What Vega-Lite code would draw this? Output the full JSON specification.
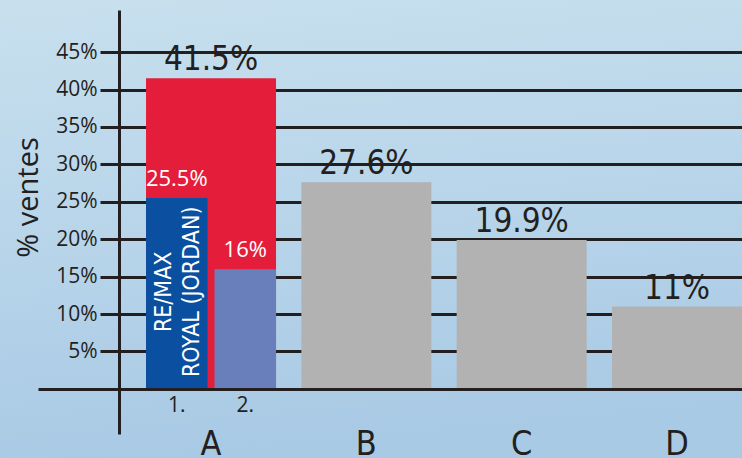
{
  "$schema": "https://vega.github.io/schema/vega-lite/v6.json",
  "width": 742,
  "height": 458,
  "padding": 0,
  "autosize": {"type": "none"},
  "background": "#c6dfee",
  "config": {
    "view": {
      "stroke": null,
      "fill": {"gradient": "linear", "x1": 0, "y1": 0, "x2": 0.15, "y2": 1, "stops": [{"offset": 0, "color": "#c8e0ee"}, {"offset": 1, "color": "#a9cae5"}]}
    }
  },
  "datasets": {
    "principal": [
      {"groupe": "A", "part": 41.5, "etiquette": "41.5%", "couleur": "A"},
      {"groupe": "B", "part": 27.6, "etiquette": "27.6%", "couleur": "autre"},
      {"groupe": "C", "part": 19.9, "etiquette": "19.9%", "couleur": "autre"},
      {"groupe": "D", "part": 11, "etiquette": "11%", "couleur": "autre"}
    ],
    "detail": [
      {"groupe": "A", "rang": "1.", "part": 25.5, "etiquette": "25.5%", "nom": "RE/MAX\nROYAL (JORDAN)"},
      {"groupe": "A", "rang": "2.", "part": 16, "etiquette": "16%", "nom": ""}
    ]
  },
  "resolve": {"axis": {"y": "independent"}},
  "layer": [
    {
      "data": {"name": "principal"},
      "mark": {"type": "bar"},
      "encoding": {
        "x": {
          "field": "groupe", "type": "nominal",
          "scale": {"domain": ["A", "B", "C", "D"], "range": [119, 742], "paddingInner": 0.163, "paddingOuter": 0.087, "align": 1},
          "axis": {"orient": "bottom", "ticks": false, "tickSize": 0, "domain": false, "grid": false, "labelAngle": 0, "labelPadding": -4, "labelBaseline": "alphabetic", "labelFont": "DejaVu Sans Condensed, Liberation Sans, sans-serif", "labelFontSize": 34, "labelColor": "#231f20", "title": null}
        },
        "y": {
          "field": "part", "type": "quantitative",
          "scale": {"domain": [-6.04, 50.64], "range": [434, 10], "zero": false, "nice": false},
          "axis": {
            "orient": "left", "offset": -119,
            "values": [5, 10, 15, 20, 25, 30, 35, 40, 45],
            "labelExpr": "datum.value + '%'",
            "tickSize": 19, "tickWidth": 3, "tickColor": "#231f20",
            "domainWidth": 3, "domainColor": "#231f20",
            "grid": true, "gridWidth": 3, "gridColor": "#231f20", "gridOpacity": 1,
            "labelFont": "Open Sans", "labelFontSize": 21, "labelColor": "#231f20", "labelPadding": 3,
            "title": "% ventes", "titleFont": "Open Sans", "titleFontSize": 29, "titleFontWeight": "normal", "titleColor": "#231f20",
            "titleAngle": 270, "titleX": -82, "titleY": 197, "titleAlign": "center", "titleBaseline": "alphabetic"
          }
        },
        "color": {
          "field": "couleur", "type": "nominal",
          "scale": {"domain": ["A", "autre", "1.", "2."], "range": ["#e41e3a", "#b2b2b2", "#0b50a0", "#687fbb"]},
          "legend": null
        }
      }
    },
    {
      "data": {"name": "detail"},
      "mark": {"type": "bar"},
      "encoding": {
        "x": {"field": "groupe", "type": "nominal"},
        "xOffset": {"field": "rang", "type": "nominal", "scale": {"domain": ["1.", "2."], "paddingInner": 0.102, "paddingOuter": 0}},
        "y": {"field": "part", "type": "quantitative", "axis": null},
        "color": {"field": "rang", "type": "nominal", "legend": null}
      }
    },
    {
      "data": {"name": "principal"},
      "mark": {"type": "text", "baseline": "alphabetic", "dy": -8, "font": "DejaVu Sans Condensed, Liberation Sans, sans-serif", "fontSize": 33, "color": "#231f20"},
      "encoding": {
        "x": {"field": "groupe", "type": "nominal"},
        "y": {"field": "part", "type": "quantitative", "axis": null},
        "text": {"field": "etiquette"}
      }
    },
    {
      "data": {"name": "detail"},
      "mark": {"type": "text", "baseline": "alphabetic", "dy": -12, "font": "Open Sans", "fontSize": 22, "color": "#ffffff"},
      "encoding": {
        "x": {"field": "groupe", "type": "nominal"},
        "xOffset": {"field": "rang", "type": "nominal"},
        "y": {"field": "part", "type": "quantitative", "axis": null},
        "text": {"field": "etiquette"}
      }
    },
    {
      "data": {"name": "detail"},
      "mark": {"type": "text", "baseline": "alphabetic", "dy": 23, "font": "Open Sans", "fontSize": 21, "color": "#231f20"},
      "encoding": {
        "x": {"field": "groupe", "type": "nominal"},
        "xOffset": {"field": "rang", "type": "nominal"},
        "y": {
          "datum": 0, "type": "quantitative",
          "axis": {"orient": "left", "offset": -38, "values": [0], "tickSize": -81, "tickWidth": 3, "tickColor": "#231f20", "labels": false, "domain": false, "grid": true, "gridWidth": 3, "gridColor": "#231f20", "gridOpacity": 1, "title": null, "zindex": 1}
        },
        "text": {"field": "rang"}
      }
    },
    {
      "data": {"name": "detail"},
      "mark": {"type": "text", "angle": 270, "align": "center", "baseline": "middle", "dx": 97, "dy": -13, "lineBreak": "\n", "lineHeight": 28, "font": "DejaVu Sans Condensed, Liberation Sans, sans-serif", "fontSize": 23, "color": "#ffffff"},
      "encoding": {
        "x": {"field": "groupe", "type": "nominal"},
        "xOffset": {"field": "rang", "type": "nominal"},
        "y": {"datum": 0, "type": "quantitative", "axis": null},
        "text": {"field": "nom"}
      }
    }
  ]
}
